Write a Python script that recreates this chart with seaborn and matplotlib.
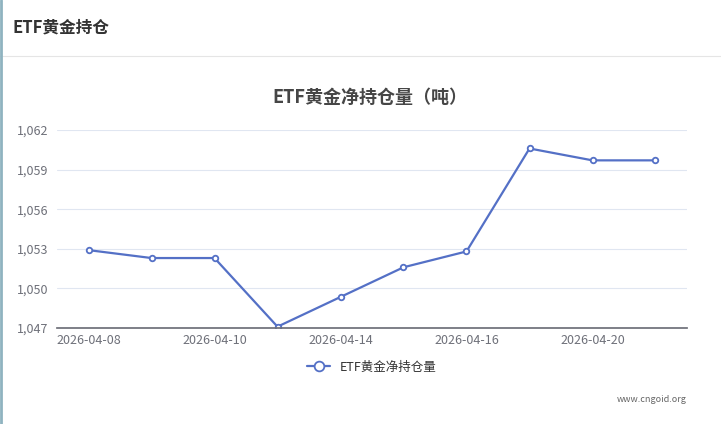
import matplotlib
matplotlib.use("Agg")
import matplotlib.pyplot as plt
import seaborn as sns
import pandas as pd
from matplotlib.lines import Line2D

dates = ["2026-04-08","2026-04-09","2026-04-10","2026-04-13","2026-04-14",
         "2026-04-15","2026-04-16","2026-04-17","2026-04-20","2026-04-21"]
values = [1052.9, 1052.3, 1052.3, 1047.1, 1049.35, 1051.6, 1052.8, 1060.6, 1059.7, 1059.7]
yticks = [1047, 1050, 1053, 1056, 1059, 1062]
series_name = "ETF黄金净持仓量"

sns.set_theme(style="white")
plt.rcParams['font.family'] = ['Noto Sans CJK SC', 'DejaVu Sans']

df = pd.DataFrame({"x": range(len(dates)), "v": values})
fig = plt.figure(figsize=(7.21, 4.24), dpi=100)
ax = fig.add_axes([57/721, 96/424, 630/721, 198/424])
c = "#5470c6"
sns.lineplot(data=df, x="x", y="v", ax=ax, color=c, lw=1.6, marker="o",
             markersize=4, markerfacecolor="white", markeredgecolor=c, markeredgewidth=1.3)
ax.set_xlim(-0.5, 9.5)
ax.set_ylim(1047, 1062)
ax.set_yticks(yticks)
ax.set_yticklabels([f"{t:,}" for t in yticks], color="#6e7079", fontsize=9)
ax.set_xticks(range(0, len(dates), 2))
ax.set_xticklabels(dates[::2], color="#6e7079", fontsize=9)
ax.tick_params(axis="y", length=0, pad=6)
ax.tick_params(axis="x", length=0, pad=4)
ax.grid(axis="y", color="#e0e6f1", lw=0.8)
for s in ["top", "right", "left"]:
    ax.spines[s].set_visible(False)
ax.spines["bottom"].set_color("#6e7079")
ax.set_xlabel(""); ax.set_ylabel("")

fig.text(12/721, 1-27/424, "ETF黄金持仓", fontsize=12, fontweight="bold", color="#333", va="center")
fig.add_artist(Line2D([0, 1], [1-56/424, 1-56/424], color="#e5e5e5", lw=0.8))
fig.add_artist(Line2D([0.001, 0.001], [0, 1], color="#8fb3c0", lw=2))
fig.text(370/721, 1-97/424, "ETF黄金净持仓量（吨）", fontsize=13, fontweight="bold", color="#464646", ha="center", va="center")
h = Line2D([], [], color=c, lw=1.6, marker="o", markersize=7, markerfacecolor="white", markeredgecolor=c, markeredgewidth=1.3)
fig.legend([h], [series_name], loc="center", bbox_to_anchor=(372/721, 1-367/424), frameon=False, fontsize=9,
           handlelength=1.8, labelcolor="#333")
fig.text(687/721, 1-400/424, "www.cngoid.org", fontsize=6.5, color="#666", ha="right", va="center")
fig.savefig("out.png", dpi=100)
